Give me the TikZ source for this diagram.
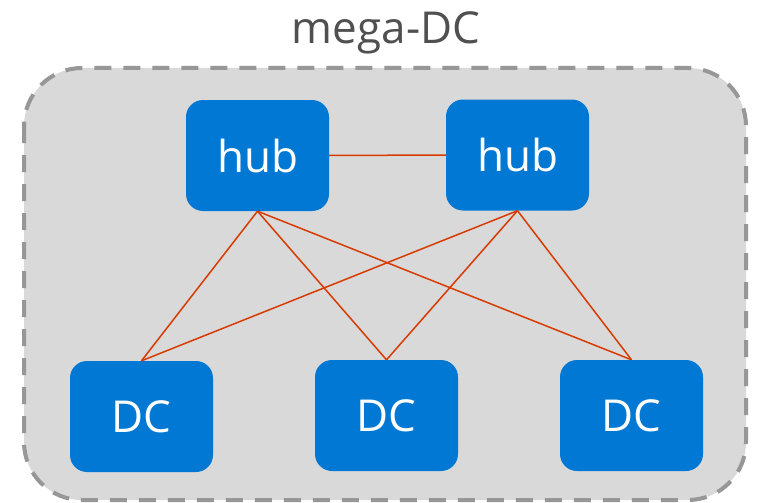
\documentclass[tikz,border=0pt]{standalone}
\usepackage{fontspec}
\setmainfont{Open Sans}
\definecolor{boxblue}{HTML}{0078D4}
\definecolor{linkred}{HTML}{D83B01}
\definecolor{megagray}{HTML}{D9D9D9}
\definecolor{dashgray}{HTML}{979797}
\definecolor{titlegray}{HTML}{505050}
\tikzset{
  unitbox/.style={fill=boxblue, draw=none, rounded corners=17pt, minimum width=143pt, minimum height=111pt, inner sep=0pt, text=white, font=\fontsize{44}{50}\selectfont},
  link/.style={draw=linkred, line width=1.5pt},
  megabox/.style={fill=megagray, draw=dashgray, line width=4pt, dash pattern=on 17pt off 12pt, rounded corners=58pt}
}
\begin{document}
\begin{tikzpicture}[x=1pt,y=-1pt]
\useasboundingbox (0,0) rectangle (758,503);
\fill[white] (0,0) rectangle (758,503);
\draw[megabox] (24,68) rectangle (746,500);
\node[text=titlegray, font=\fontsize{44}{50}\selectfont, anchor=base] (title) at (386,44) {mega-DC};
\node[unitbox] (hubA) at (257.5,155.5) {hub};
\node[unitbox] (hubB) at (517.5,155) {hub};
\node[unitbox] (dcA) at (141.5,416.5) {DC};
\node[unitbox] (dcB) at (386.5,415.5) {DC};
\node[unitbox] (dcC) at (631.5,415.5) {DC};
\draw[link] (hubA.east) -- (hubB.west);
\foreach \h in {hubA,hubB}{
  \foreach \d in {dcA,dcB,dcC}{
    \draw[link] (\h.south) -- (\d.north);
  }
}
\end{tikzpicture}
\end{document}
